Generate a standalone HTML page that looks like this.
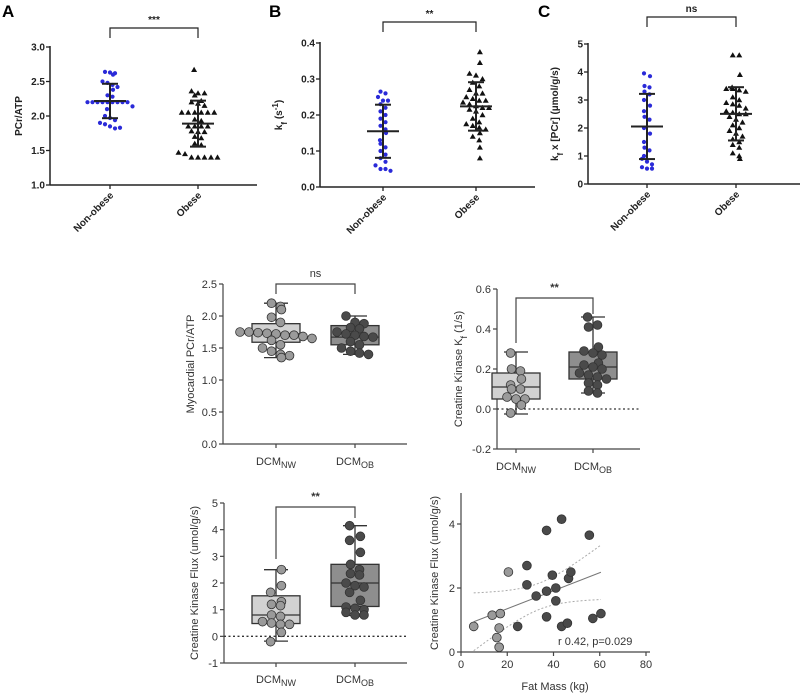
<!DOCTYPE html>
<html><head><meta charset="utf-8"><style>
body{margin:0;background:#fff}
svg{display:block;font-family:"Liberation Sans",Arial,sans-serif}
.b{font-weight:bold;font-size:10px;fill:#222}
.r{font-size:11px;fill:#333}
</style></head><body>
<svg id="fig" width="800" height="697" viewBox="0 0 800 697" xmlns="http://www.w3.org/2000/svg">
<text x="2" y="17" font-size="17" font-weight="bold">A</text>
<text x="269" y="17" font-size="17" font-weight="bold">B</text>
<text x="538" y="17" font-size="17" font-weight="bold">C</text>
</svg>
<script>
// ---- data ----
const groupLabels = ["Non-obese","Obese"];
const aTicks = [1.0,1.5,2.0,2.5,3.0];
const aNon = [2.64,2.63,2.62,2.6,2.5,2.48,2.45,2.42,2.38,2.3,2.28,2.2,2.2,2.2,2.2,2.2,2.2,2.2,2.2,2.2,2.14,2.1,2.0,1.97,1.94,1.9,1.88,1.85,1.82,1.83];
const aOb = [2.67,2.36,2.33,2.33,2.3,2.22,2.2,2.18,2.15,2.05,2.05,2.05,2.05,2.05,2.05,1.95,1.93,1.85,1.85,1.85,1.85,1.78,1.77,1.77,1.7,1.68,1.6,1.58,1.47,1.45,1.4,1.4,1.4,1.4,1.4];
const bTicks = [0.0,0.1,0.2,0.3,0.4];
const bNon = [0.265,0.26,0.25,0.24,0.24,0.23,0.22,0.21,0.2,0.19,0.18,0.17,0.16,0.15,0.13,0.12,0.11,0.1,0.09,0.08,0.07,0.06,0.05,0.05,0.045];
const bOb = [0.375,0.345,0.315,0.31,0.3,0.29,0.28,0.27,0.26,0.25,0.245,0.24,0.235,0.23,0.225,0.22,0.215,0.21,0.2,0.19,0.18,0.175,0.17,0.165,0.16,0.15,0.14,0.13,0.11,0.08,0.22,0.24,0.26];
const cTicks = [0,1,2,3,4,5];
const cNon = [3.95,3.85,3.5,3.45,3.3,3.2,3.0,2.8,2.6,2.4,2.3,2.0,1.8,1.5,1.3,1.2,1.0,0.9,0.8,0.7,0.6,0.55,0.55];
const cOb = [4.6,4.6,3.9,3.45,3.4,3.4,3.35,3.3,3.1,3.0,2.9,2.85,2.8,2.7,2.6,2.55,2.5,2.5,2.4,2.3,2.2,2.1,2.0,1.9,1.8,1.7,1.6,1.5,1.4,1.3,1.1,1.0,0.9];

const boxLabels = ["NW","OB"];
const pcrTicks = [0.0,0.5,1.0,1.5,2.0,2.5];
const pcrNW = [2.2,2.15,2.1,1.98,1.9,1.75,1.75,1.74,1.73,1.72,1.7,1.7,1.68,1.65,1.62,1.55,1.5,1.45,1.4,1.38,1.35];
const pcrOB = [2.0,1.9,1.88,1.82,1.8,1.75,1.72,1.7,1.68,1.67,1.6,1.55,1.5,1.45,1.42,1.4];
const pcrBoxNW = [1.35,1.59,1.72,1.88,2.2];
const pcrBoxOB = [1.4,1.55,1.67,1.85,2.0];
const kfTicks = [-0.2,0.0,0.2,0.4,0.6];
const kfNW = [0.28,0.2,0.19,0.15,0.12,0.1,0.1,0.06,0.05,0.05,0.02,-0.02];
const kfOB = [0.46,0.41,0.42,0.31,0.29,0.28,0.27,0.23,0.22,0.21,0.2,0.18,0.17,0.16,0.15,0.13,0.12,0.09,0.08];
const kfBoxNW = [-0.025,0.05,0.11,0.18,0.285];
const kfBoxOB = [0.08,0.15,0.21,0.285,0.46];
const fxTicks = [-1,0,1,2,3,4,5];
const fxNW = [2.5,1.9,1.65,1.3,1.2,1.15,0.8,0.75,0.55,0.5,0.45,0.45,0.15,-0.2];
const fxOB = [4.15,3.75,3.6,3.15,2.7,2.5,2.35,2.3,2.0,1.9,1.85,1.65,1.35,1.1,1.05,1.0,0.9,0.8,0.8];
const fxBoxNW = [-0.18,0.48,0.8,1.52,2.5];
const fxBoxOB = [0.78,1.12,2.0,2.7,4.15];

const scXTicks = [0,20,40,60,80];
const scYTicks = [0,2,4];
const scNWx = [5.5,13.5,17,20.5,16.5,15.5,16.5];
const scNWy = [0.8,1.15,1.2,2.5,0.75,0.45,0.15];
const scOBx = [24.5,28.5,28.5,32.5,37,37,37,39.5,41,41,43.5,43.5,46,46.5,47.5,55.5,57,60.5];
const scOBy = [0.8,2.7,2.1,1.75,3.8,1.9,1.1,2.4,2.0,1.6,4.15,0.8,0.9,2.3,2.5,3.65,1.05,1.2];

// ---- helpers ----
const svg = document.getElementById('fig');
const NS = "http://www.w3.org/2000/svg";
function mk(tag, attrs, name, inter){
  const el = document.createElementNS(NS, tag);
  for (const k in attrs) el.setAttribute(k, attrs[k]);
  
  
  svg.appendChild(el);
  return el;
}
function txt(x,y,s,cls,name,extra){
  const t = mk('text', Object.assign({x:x,y:y,class:cls}, extra||{}), name, false);
  t.textContent = s; return t;
}
function lin(x1,y1,x2,y2,name,w,col,dash){
  const a={x1:x1,y1:y1,x2:x2,y2:y2,stroke:col||'#222','stroke-width':w||1.3};
  if(dash) a['stroke-dasharray']=dash;
  return mk('line',a,name,false);
}
function scale(d0,d1,r0,r1){return v=>r0+(v-d0)*(r1-r0)/(d1-d0);}
function swarm(vals, yS, cx, spacing, binPx){
  const bins={}; const out=[];
  vals.forEach(v=>{const k=Math.round(yS(v)/binPx); (bins[k]=bins[k]||[]).push(v);});
  Object.keys(bins).forEach(k=>{const arr=bins[k]; const n=arr.length;
    arr.forEach((v,i)=>{let off; if(n===1) off=(Number(k)%2?1:-1)*spacing*0.6; else off=(i-(n-1)/2)*spacing; out.push([cx+off,yS(v)]);});});
  return out;
}
function meanSd(a){const m=a.reduce((s,v)=>s+v,0)/a.length; const sd=Math.sqrt(a.reduce((s,v)=>s+(v-m)*(v-m),0)/(a.length-1)); return [m,sd];}
function tri(x,y,name){
  return mk('polygon',{points:`${x},${y-3} ${x-3},${y+2.2} ${x+3},${y+2.2}`,fill:'#111'},name,false);
}

// ---- top panels ----
function topPanel(p){
  const yS=scale(p.ticks[0],p.ticks[p.ticks.length-1],p.y0,p.y1);
  lin(p.ax,p.y1-1,p.ax,p.y0,p.id+'-y-axis',1.5);
  lin(p.ax,p.y0,p.axEnd,p.y0,p.id+'-x-axis',1.5);
  p.ticks.forEach(t=>{const y=yS(t); lin(p.ax-4,y,p.ax,y,p.id+'-y-tick',1.3);
    txt(p.ax-5,y+3.5,p.fmt(t),'b',p.id+'-y-tick-label',{'text-anchor':'end'});});
  p.xs.forEach((x,i)=>{lin(x,p.y0,x,p.y0+4,p.id+'-x-tick',1.3);
    txt(x+4,p.y0+11,groupLabels[i],'b',p.id+'-x-label',{'text-anchor':'end',transform:`rotate(-45 ${x+4} ${p.y0+11})`,'font-size':'11.5'});});
  swarm(p.non,yS,p.xs[0],5,7).forEach(q=>{mk('circle',{cx:q[0],cy:q[1],r:2.1,fill:'#2a2ad8'},p.id+'-nonobese-point',false);});
  swarm(p.ob,yS,p.xs[1],6.5,7).forEach(q=>{tri(q[0],q[1],p.id+'-obese-point');});
  [p.non,p.ob].forEach((a,i)=>{const [m,sd]=meanSd(a); const x=p.xs[i];
    lin(x-16,yS(m),x+16,yS(m),p.id+'-mean-bar',2);
    lin(x,yS(m-sd),x,yS(m+sd),p.id+'-sd-bar',2);
    lin(x-8,yS(m-sd),x+8,yS(m-sd),p.id+'-sd-cap',2);
    lin(x-8,yS(m+sd),x+8,yS(m+sd),p.id+'-sd-cap',2);});
  mk('path',{d:`M${p.xs[0]},${p.bt+10}V${p.bt}H${p.xs[1]}V${p.bt+10}`,fill:'none',stroke:'#222','stroke-width':1.2},p.id+'-sig-bracket',false);
  txt((p.xs[0]+p.xs[1])/2,p.bt-5,p.sig,'b',p.id+'-sig-label',{'text-anchor':'middle','font-size':'11'});
  const t=txt(p.tx,(p.y0+p.y1)/2,'','b',p.id+'-y-title',{'text-anchor':'middle',transform:`rotate(-90 ${p.tx} ${(p.y0+p.y1)/2})`,'font-size':'11'});
  t.innerHTML=p.title;
}
topPanel({id:'panel-a',ticks:aTicks,y0:185,y1:47,ax:50,axEnd:257,xs:[110,198],non:aNon,ob:aOb,fmt:v=>v.toFixed(1),bt:28,sig:'***',tx:22,title:'PCr/ATP'});
topPanel({id:'panel-b',ticks:bTicks,y0:187,y1:43,ax:320,axEnd:535,xs:[383,476],non:bNon,ob:bOb,fmt:v=>v.toFixed(1),bt:22,sig:'**',tx:282,title:'k<tspan baseline-shift="sub" font-size="8">f</tspan> (s<tspan baseline-shift="super" font-size="8">-1</tspan>)'});
topPanel({id:'panel-c',ticks:cTicks,y0:184,y1:44,ax:588,axEnd:800,xs:[647,736],non:cNon,ob:cOb,fmt:v=>String(v),bt:17,sig:'ns',tx:558,title:'k<tspan baseline-shift="sub" font-size="8">f</tspan> x [PCr] (µmol/g/s)'});

// ---- box panels ----
function boxPanel(p){
  const yS=scale(p.ticks[0],p.ticks[p.ticks.length-1],p.y0,p.y1);
  lin(p.ax,p.y1,p.ax,p.y0,p.id+'-y-axis',1.2,'#444');
  lin(p.ax,p.y0,p.axEnd,p.y0,p.id+'-x-axis',1.2,'#444');
  if(p.ticks[0]<0) lin(p.ax,yS(0),p.axEnd,yS(0),p.id+'-zero-line',1.3,'#333','2,2.5');
  p.ticks.forEach(t=>{const y=yS(t); lin(p.ax-4,y,p.ax,y,p.id+'-y-tick',1.2,'#444');
    txt(p.ax-6,y+4,p.fmt(t),'r',p.id+'-y-tick-label',{'text-anchor':'end','font-size':'12'});});
  p.xs.forEach((x,i)=>{lin(x,p.y0,x,p.y0+4,p.id+'-x-tick',1.2,'#444');
    const t=txt(x,p.y0+p.lab,'','r',p.id+'-x-label',{'text-anchor':'middle','font-size':'12'});
    t.innerHTML='DCM<tspan dy="3" font-size="9">'+boxLabels[i]+'</tspan>';});
  const fills=['#d2d2d2','#8e8e8e'], dots=['#9a9a9a','#4a4a4a'];
  [p.bNW,p.bOB].forEach((b,i)=>{const x=p.xs[i], w=24;
    lin(x,yS(b[0]),x,yS(b[4]),p.id+'-whisker',1.3,'#333');
    lin(x-12,yS(b[0]),x+12,yS(b[0]),p.id+'-whisker-cap',1.3,'#333');
    lin(x-12,yS(b[4]),x+12,yS(b[4]),p.id+'-whisker-cap',1.3,'#333');
    mk('rect',{x:x-w,y:yS(b[3]),width:2*w,height:yS(b[1])-yS(b[3]),fill:fills[i],stroke:'#333','stroke-width':1.3},p.id+'-box-'+boxLabels[i].toLowerCase(),false);
    lin(x-w,yS(b[2]),x+w,yS(b[2]),p.id+'-median',1.3,'#333');});
  [p.nw,p.ob].forEach((a,i)=>{swarm(a,yS,p.xs[i],9,8).forEach(q=>{
    mk('circle',{cx:q[0],cy:q[1],r:4.4,fill:dots[i],stroke:'#333','stroke-width':0.8},p.id+'-point-'+boxLabels[i].toLowerCase(),false);});});
  mk('path',{d:`M${p.xs[0]},${p.bl}V${p.bt}H${p.xs[1]}V${p.br}`,fill:'none',stroke:'#444','stroke-width':1.2},p.id+'-sig-bracket',false);
  txt((p.xs[0]+p.xs[1])/2,p.bt-7,p.sig,'r',p.id+'-sig-label',{'text-anchor':'middle','font-size':p.sig==='ns'?'12':'15','font-weight':p.sig==='ns'?'normal':'bold'});
  const cy=(p.y0+p.y1)/2;
  const t=txt(p.tx,cy,'','r',p.id+'-y-title',{'text-anchor':'middle',transform:`rotate(-90 ${p.tx} ${cy})`,'font-size':'12.5'});
  t.innerHTML=p.title;
}
boxPanel({id:'pcr-box',ticks:pcrTicks,y0:444,y1:284,ax:223,axEnd:407,xs:[276,355],nw:pcrNW,ob:pcrOB,bNW:pcrBoxNW,bOB:pcrBoxOB,fmt:v=>v.toFixed(1),bt:284,bl:294,br:294,sig:'ns',tx:194,lab:21,title:'Myocardial PCr/ATP'});
boxPanel({id:'kf-box',ticks:kfTicks,y0:449,y1:289,ax:497,axEnd:640,xs:[516,593],nw:kfNW,ob:kfOB,bNW:kfBoxNW,bOB:kfBoxOB,fmt:v=>v.toFixed(1),bt:298,bl:343,br:314,sig:'**',tx:462,lab:21,title:'Creatine Kinase K<tspan baseline-shift="sub" font-size="9">f</tspan> (1/s)'});
boxPanel({id:'flux-box',ticks:fxTicks,y0:663,y1:503,ax:224,axEnd:407,xs:[276,355],nw:fxNW,ob:fxOB,bNW:fxBoxNW,bOB:fxBoxOB,fmt:v=>String(v),bt:507,bl:559,br:518,sig:'**',tx:198,lab:20,title:'Creatine Kinase Flux (umol/g/s)'});

// ---- scatter ----
(function(){
  const xS=scale(0,80,461,646), yS=scale(0,4,652,524);
  lin(461,493,461,652,'scatter-y-axis',1.2,'#444');
  lin(461,652,650,652,'scatter-x-axis',1.2,'#444');
  scYTicks.forEach(t=>{lin(457,yS(t),461,yS(t),'scatter-y-tick',1.2,'#444');
    txt(455,yS(t)+4,String(t),'r','scatter-y-tick-label',{'text-anchor':'end','font-size':'12'});});
  scXTicks.forEach(t=>{lin(xS(t),652,xS(t),656,'scatter-x-tick',1.2,'#444');
    txt(xS(t),668,String(t),'r','scatter-x-tick-label',{'text-anchor':'middle','font-size':'12'});});
  const X=scNWx.concat(scOBx), Y=scNWy.concat(scOBy), n=X.length;
  const mx=X.reduce((a,b)=>a+b)/n, my=Y.reduce((a,b)=>a+b)/n;
  let sxx=0,sxy=0; X.forEach((x,i)=>{sxx+=(x-mx)*(x-mx);sxy+=(x-mx)*(Y[i]-my);});
  const b=sxy/sxx, a=my-b*mx;
  let sse=0; X.forEach((x,i)=>{const e=Y[i]-(a+b*x); sse+=e*e;});
  const s=Math.sqrt(sse/(n-2)), tq=2.06;
  const x0=Math.min(...X), x1=Math.max(...X);
  let up='',lo='';
  for(let k=0;k<=30;k++){const x=x0+(x1-x0)*k/30, f=a+b*x, h=tq*s*Math.sqrt(1/n+(x-mx)*(x-mx)/sxx);
    up+=(k?'L':'M')+xS(x).toFixed(1)+','+yS(f+h).toFixed(1);
    lo+=(k?'L':'M')+xS(x).toFixed(1)+','+yS(Math.max(f-h,0)).toFixed(1);}
  mk('path',{d:up,fill:'none',stroke:'#aaa','stroke-width':1,'stroke-dasharray':'2,2'},'ci-upper',false);
  mk('path',{d:lo,fill:'none',stroke:'#aaa','stroke-width':1,'stroke-dasharray':'2,2'},'ci-lower',false);
  lin(xS(x0),yS(a+b*x0),xS(x1),yS(a+b*x1),'regression-line',1,'#777');
  scNWx.forEach((x,i)=>{mk('circle',{cx:xS(x),cy:yS(scNWy[i]),r:4.4,fill:'#9a9a9a',stroke:'#333','stroke-width':0.8},'scatter-point-nw',false);});
  scOBx.forEach((x,i)=>{mk('circle',{cx:xS(x),cy:yS(scOBy[i]),r:4.4,fill:'#4a4a4a',stroke:'#333','stroke-width':0.8},'scatter-point-ob',false);});
  txt(558,645,'r 0.42, p=0.029','r','correlation-stats',{'font-size':'12.5'});
  txt(555,690,'Fat Mass (kg)','r','scatter-x-title',{'text-anchor':'middle','font-size':'12.5'});
  txt(438,573,'Creatine Kinase Flux (umol/g/s)','r','scatter-y-title',{'text-anchor':'middle','font-size':'12.5',transform:'rotate(-90 438 573)'});
})();
</script>
</body></html>
